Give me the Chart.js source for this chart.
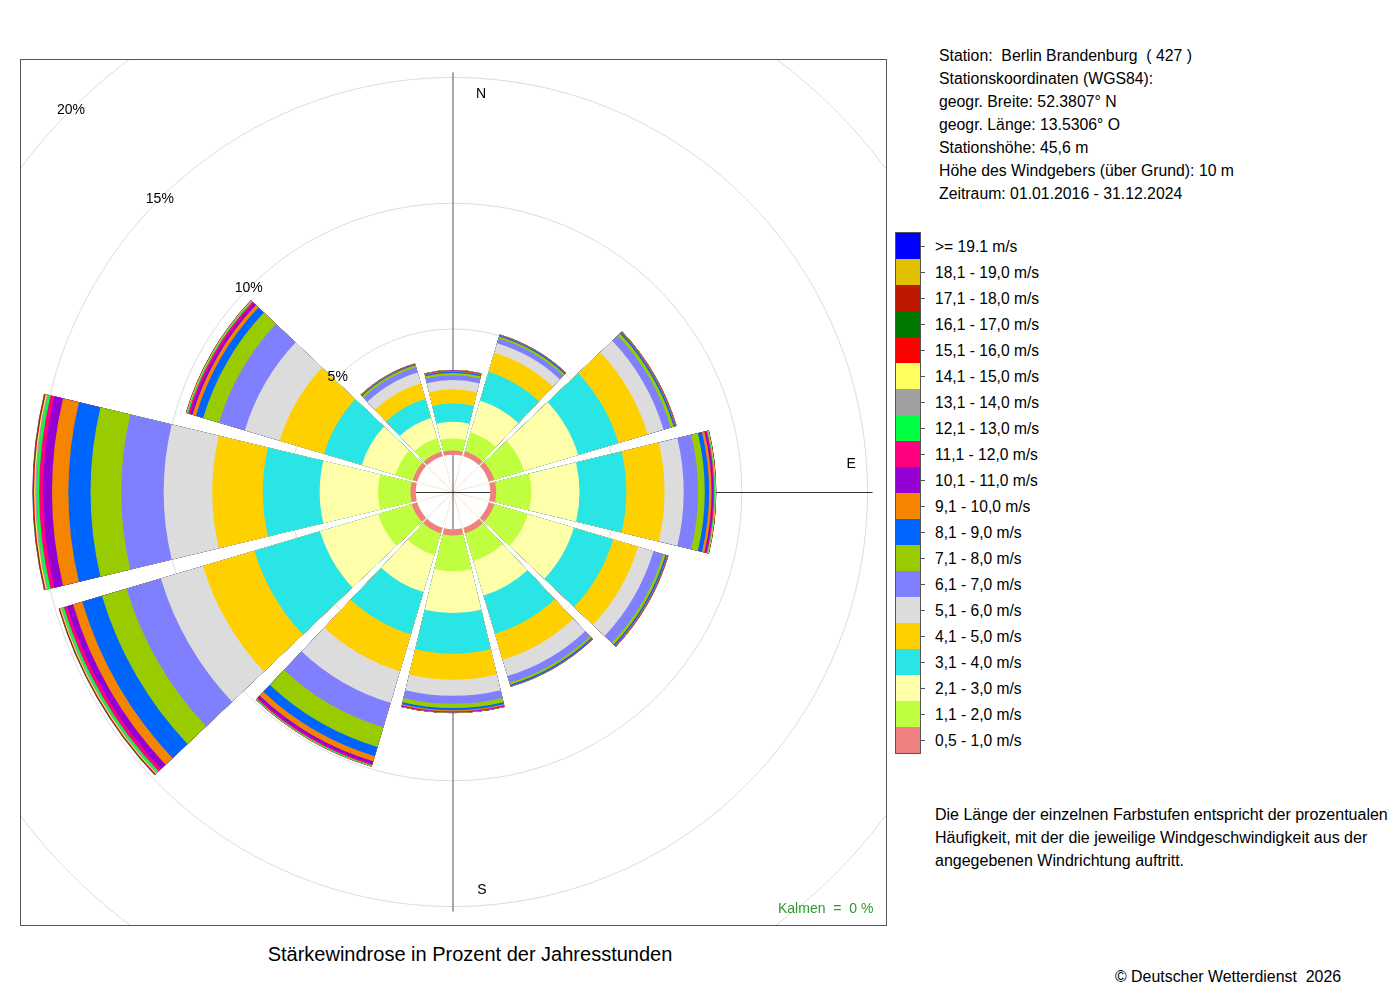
<!DOCTYPE html>
<html lang="de">
<head>
<meta charset="utf-8">
<title>Stärkewindrose Berlin Brandenburg</title>
<script src="https://cdn.jsdelivr.net/npm/chart.js@4.4.1/dist/chart.umd.min.js"></script>
<style>
  body { margin: 0; background: #fff; color: #000; font-family: "Liberation Sans", Arial, Helvetica, sans-serif; }
  #page { position: relative; width: 1400px; height: 1000px; overflow: hidden; }
  #plotBox { position: absolute; left: 20px; top: 59px; width: 867px; height: 867px; box-sizing: border-box; border: 1px solid #555; overflow: hidden; }
  #rose { position: absolute; left: -209px; top: -209px; }
  .txt { position: absolute; white-space: pre; font-size: 15.8px; line-height: 23px; }
  #title { position: absolute; left: 20px; width: 900px; top: 943px; text-align: center; font-size: 20px; line-height: 23px; }
  #kalmen { position: absolute; left: 778px; top: 900px; font-size: 14px; line-height: 16px; color: #2e9a2e; white-space: pre; }
  #legendCol { position: absolute; left: 895px; top: 232px; width: 26px; box-sizing: border-box; border: 1px solid #555; }
  #legendCol div { height: 26px; }
  .ltick { position: absolute; left: 921px; width: 4px; height: 1px; background: #555; }
  .llab { position: absolute; left: 935px; font-size: 15.6px; line-height: 18px; white-space: pre; }
</style>
</head>
<body>
<div id="page">
  <div id="plotBox"><canvas id="rose" width="1282" height="1282"></canvas></div>
  <div id="kalmen">Kalmen  =  0 %</div>
  <div id="title">Stärkewindrose in Prozent der Jahresstunden</div>
  <div class="txt" style="left:939px; top:44px;">Station:  Berlin Brandenburg  ( 427 )
Stationskoordinaten (WGS84):
geogr. Breite: 52.3807° N
geogr. Länge: 13.5306° O
Stationshöhe: 45,6 m
Höhe des Windgebers (über Grund): 10 m
Zeitraum: 01.01.2016 - 31.12.2024</div>
  <div id="legendCol"></div>
  <div id="legendTicks"></div>
  <div class="txt" style="left:935px; top:803px; font-size:16px;">Die Länge der einzelnen Farbstufen entspricht der prozentualen
Häufigkeit, mit der die jeweilige Windgeschwindigkeit aus der
angegebenen Windrichtung auftritt.</div>
  <div class="txt" style="left:1115px; top:965px; font-size:15.9px;">© Deutscher Wetterdienst  2026</div>
</div>
<script>
// Windrichtungen (Sektoren im Uhrzeigersinn ab Nord)
const directions = ['N', 'NNO', 'ONO', 'O', 'OSO', 'SSO', 'S', 'SSW', 'WSW', 'W', 'WNW', 'NNW'];

// Häufigkeit in % je Geschwindigkeitsklasse und Richtung
const c05_10  = [0.17, 0.21, 0.23, 0.24, 0.23, 0.23, 0.25, 0.23, 0.23, 0.21, 0.19, 0.19];
const c11_20  = [0.48, 0.78, 1.23, 1.39, 1.39, 1.15, 1.42, 0.91, 1.39, 1.29, 0.72, 0.56];
const c21_30  = [0.66, 1.31, 2.25, 1.92, 1.91, 1.43, 1.66, 1.53, 2.41, 2.32, 1.39, 0.84];
const c31_40  = [0.73, 1.19, 1.67, 1.86, 1.63, 1.59, 1.62, 1.75, 2.72, 2.26, 1.57, 0.80];
const c41_50  = [0.56, 0.80, 1.21, 1.52, 1.03, 1.07, 1.03, 1.53, 2.13, 2.01, 1.83, 0.64];
const c51_60  = [0.37, 0.40, 0.66, 0.76, 0.64, 0.68, 0.64, 1.31, 1.75, 1.93, 1.45, 0.44];
const c61_70  = [0.19, 0.20, 0.30, 0.57, 0.40, 0.28, 0.32, 1.01, 1.42, 1.69, 1.07, 0.22];
const c71_80  = [0.09, 0.08, 0.12, 0.27, 0.10, 0.08, 0.17, 0.82, 1.02, 1.22, 0.66, 0.08];
const c81_90  = [0.05, 0.04, 0.06, 0.17, 0.06, 0.05, 0.09, 0.38, 0.82, 0.88, 0.30, 0.04];
const c91_100 = [0.03, 0.02, 0.025, 0.10, 0.03, 0.02, 0.05, 0.21, 0.38, 0.65, 0.14, 0.02];
const c101_110 = [0.015, 0.008, 0.012, 0.06, 0.012, 0.008, 0.025, 0.11, 0.24, 0.35, 0.10, 0.008];
const c111_120 = [0.01, 0.005, 0.01, 0.04, 0.008, 0.004, 0.012, 0.06, 0.14, 0.16, 0.08, 0.005];
const c121_130 = [0.005, 0.003, 0.005, 0.03, 0.004, 0.002, 0.008, 0.025, 0.08, 0.10, 0.04, 0.003];
const c131_140 = [0.003, 0.002, 0.003, 0.02, 0.003, 0.001, 0.005, 0.012, 0.05, 0.06, 0.02, 0.002];
const c141_150 = [0.002, 0.001, 0.002, 0.015, 0.002, 0, 0.004, 0.008, 0.03, 0.04, 0.015, 0.001];
const c151_160 = [0.002, 0.001, 0.002, 0.01, 0.001, 0, 0.003, 0.006, 0.025, 0.03, 0.01, 0.001];
const c161_170 = [0.001, 0, 0.001, 0.005, 0, 0, 0.001, 0.004, 0.015, 0.015, 0.007, 0];
const c171_180 = [0.001, 0, 0, 0.003, 0, 0, 0.001, 0.002, 0.01, 0.01, 0.004, 0];
const c181_190 = [0.001, 0, 0, 0.002, 0, 0, 0.001, 0.002, 0.005, 0.005, 0.002, 0];
const c191    = [0.001, 0, 0, 0.002, 0, 0, 0, 0.001, 0.005, 0.01, 0.002, 0];

const speedLabels = ['0,5 - 1,0 m/s', '1,1 - 2,0 m/s', '2,1 - 3,0 m/s', '3,1 - 4,0 m/s', '4,1 - 5,0 m/s',
  '5,1 - 6,0 m/s', '6,1 - 7,0 m/s', '7,1 - 8,0 m/s', '8,1 - 9,0 m/s', '9,1 - 10,0 m/s',
  '10,1 - 11,0 m/s', '11,1 - 12,0 m/s', '12,1 - 13,0 m/s', '13,1 - 14,0 m/s', '14,1 - 15,0 m/s',
  '15,1 - 16,0 m/s', '16,1 - 17,0 m/s', '17,1 - 18,0 m/s', '18,1 - 19,0 m/s', '>= 19.1 m/s'];
const speedColors = ['#f08080', '#bfff3f', '#ffffaa', '#2ae5e5', '#ffd000',
  '#dcdcdc', '#8080ff', '#99cc00', '#0064ff', '#f58500',
  '#9400d3', '#ff0080', '#00ff40', '#a0a0a0', '#ffff60',
  '#ff0000', '#007800', '#c01800', '#e0c000', '#0000ff'];

// Ringe und Beschriftung
const tickValues = [5, 10, 15, 20];
const compassLetters = ['N', 'E', 'S', 'W'];

const classSeries = [c05_10, c11_20, c21_30, c31_40, c41_50, c51_60, c61_70, c71_80, c81_90, c91_100,
  c101_110, c111_120, c121_130, c131_140, c141_150, c151_160, c161_170, c171_180, c181_190, c191];

const sectorAngle = 27;
const gapAngle = 3;
const rMin = -1.48;   // Innenloch der Rose
const rMax = 24;

// Jeder Sektor bekommt einen schmalen leeren Eintrag als Lücke
const labels = [];
const angles = [];
directions.forEach(d => {
  labels.push(d); angles.push(sectorAngle);
  labels.push(''); angles.push(gapAngle);
});

// Klassen aufsummieren: jede Klasse wird als Bogen bis zur Summe gezeichnet
let running = directions.map(() => 0);
const datasets = classSeries.map((vals, c) => {
  running = running.map((s, i) => s + vals[i]);
  const data = [];
  const colors = [];
  running.forEach(v => {
    data.push(v); colors.push(speedColors[c]);
    data.push(rMin); colors.push('rgba(0,0,0,0)');
  });
  return { label: speedLabels[c], data: data, backgroundColor: colors, borderWidth: 0, angle: angles };
});
// weißes Loch in der Mitte (wird zuletzt gezeichnet)
datasets.unshift({ label: 'Loch', data: labels.map(() => 0), backgroundColor: '#ffffff', borderWidth: 0, angle: angles });

const fontStack = '"Liberation Sans", Arial, Helvetica, sans-serif';

const roseDecor = {
  id: 'roseDecor',
  beforeDatasetsDraw(chart) {
    const r = chart.scales.r;
    const ctx = chart.ctx;
    const cx = r.xCenter, cy = r.yCenter;
    const len = r.getDistanceFromCenterForValue(15.2);
    ctx.save();
    ctx.lineWidth = 1;
    ctx.strokeStyle = '#555';
    ctx.beginPath();
    ctx.moveTo(cx, cy - len); ctx.lineTo(cx, cy + len);
    ctx.stroke();
    ctx.strokeStyle = '#333';
    ctx.beginPath();
    ctx.moveTo(cx - len, cy + 0.5); ctx.lineTo(cx + len, cy + 0.5);
    ctx.stroke();
    // Himmelsrichtungen
    const d = r.getDistanceFromCenterForValue(14.35);
    ctx.fillStyle = '#000';
    ctx.font = '14px ' + fontStack;
    ctx.textAlign = 'center';
    ctx.textBaseline = 'middle';
    ctx.fillText(compassLetters[0], cx + 28, cy - d);
    ctx.fillText(compassLetters[1], cx + d, cy - 28);
    ctx.fillText(compassLetters[2], cx + 29, cy + d);
    ctx.fillText(compassLetters[3], cx - d, cy - 28);
    ctx.restore();
  },
  afterDatasetsDraw(chart) {
    const r = chart.scales.r;
    const ctx = chart.ctx;
    const cx = r.xCenter, cy = r.yCenter;
    const h = r.getDistanceFromCenterForValue(0);
    ctx.save();
    // Achsenkreuz im Loch
    ctx.lineWidth = 1;
    ctx.strokeStyle = '#555';
    ctx.beginPath();
    ctx.moveTo(cx, cy - h); ctx.lineTo(cx, cy + h);
    ctx.stroke();
    ctx.strokeStyle = '#333';
    ctx.beginPath();
    ctx.moveTo(cx - h, cy + 0.5); ctx.lineTo(cx + h, cy + 0.5);
    ctx.stroke();
    // Prozentangaben diagonal nach Nordwest
    ctx.fillStyle = '#000';
    ctx.font = '14px ' + fontStack;
    ctx.textAlign = 'center';
    ctx.textBaseline = 'middle';
    tickValues.forEach(v => {
      const dist = r.getDistanceFromCenterForValue(v);
      ctx.fillText(v + '%', cx - dist * Math.SQRT1_2, cy - dist * Math.SQRT1_2);
    });
    ctx.restore();
  }
};

new Chart(document.getElementById('rose'), {
  type: 'polarArea',
  data: { labels: labels, datasets: datasets },
  options: {
    responsive: false,
    devicePixelRatio: 1,
    animation: false,
    events: [],
    layout: { padding: 0 },
    plugins: {
      legend: { display: false },
      tooltip: { enabled: false }
    },
    scales: {
      r: {
        min: rMin,
        max: rMax,
        startAngle: -sectorAngle / 2,
        ticks: { display: false, stepSize: 5 },
        grid: {
          circular: true,
          lineWidth: 1,
          color: (ctx) => {
            const v = ctx.tick ? ctx.tick.value : 0;
            return tickValues.some(t => Math.abs(t - v) < 1e-6) ? '#dcdcdc' : 'rgba(0,0,0,0)';
          }
        },
        angleLines: { display: false },
        pointLabels: { display: false }
      }
    }
  },
  plugins: [roseDecor]
});

// Farblegende, oben die höchste Klasse
const legendCol = document.getElementById('legendCol');
const legendTicks = document.getElementById('legendTicks');
for (let k = speedLabels.length - 1, row = 0; k >= 0; k--, row++) {
  const cell = document.createElement('div');
  cell.style.background = speedColors[k];
  legendCol.appendChild(cell);
  const yMid = 233 + row * 26 + 13;
  const t = document.createElement('div');
  t.className = 'ltick';
  t.style.top = yMid + 'px';
  legendTicks.appendChild(t);
  const lab = document.createElement('div');
  lab.className = 'llab';
  lab.style.top = (yMid - 8) + 'px';
  lab.textContent = speedLabels[k];
  legendTicks.appendChild(lab);
}
</script>
</body>
</html>
